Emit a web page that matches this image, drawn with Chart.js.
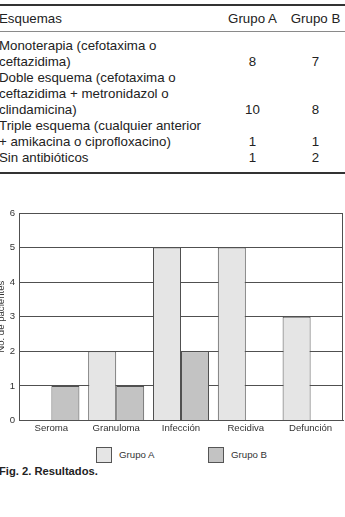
<!DOCTYPE html>
<html>
<head>
<meta charset="utf-8">
<script src="https://cdn.jsdelivr.net/npm/chart.js@4"></script>
<style>
    body { margin: 0; background: #fff; width: 345px; height: 517px; overflow: hidden; position: relative;
           font-family: "Liberation Sans", Arial, sans-serif; color: #222; }
    #tabla { position: absolute; top: 4px; left: -1px; width: 347px; font-size: 13.3px; line-height: 16px;
             border-top: 2px solid #333; border-bottom: 2px solid #333; }
    #tabla .cab { display: flex; padding: 5px 0 4px 0; border-bottom: 1px solid #8a8a8a; }
    #tabla .cuerpo { padding: 6px 0; }
    #tabla .fila { display: flex; }
    #tabla .c1 { width: 221px; white-space: nowrap; }
    #tabla .c2 { width: 65px; text-align: center; align-self: flex-end; }
    #tabla .c3 { width: 61px; text-align: center; align-self: flex-end; }
    #grafico { position: absolute; top: 195px; left: -4px; width: 349px; height: 241px; }
    #leyenda { position: absolute; top: 447px; left: 0; width: 345px; height: 16px; font-size: 9.7px; }
    #leyenda .item { position: absolute; top: 0; height: 16px; line-height: 16px; }
    #leyenda .caja { position: absolute; left: 0; top: 0; width: 14px; height: 14px; border: 1px solid #555; }
    #leyenda .txt { position: absolute; left: 23px; top: 0; white-space: nowrap; color: #333; }
    #pie { position: absolute; top: 463px; left: -1px; font-size: 11.2px; font-weight: bold; line-height: 16px; color: #222; }
</style>
</head>
<body>
<div id="tabla"></div>
<div id="grafico"><canvas id="resultadosChart"></canvas></div>
<div id="leyenda"></div>
<div id="pie">Fig. 2. Resultados.</div>

<script>
// Table data
const columnas = ['Esquemas', 'Grupo A', 'Grupo B'];
const esquemas = [
    ['Monoterapia (cefotaxima o', 'ceftazidima)'],
    ['Doble esquema (cefotaxima o', 'ceftazidima + metronidazol o', 'clindamicina)'],
    ['Triple esquema (cualquier anterior', '+ amikacina o ciprofloxacino)'],
    ['Sin antibióticos']
];
const tablaGrupoA = [8, 10, 1, 1];
const tablaGrupoB = [7, 8, 1, 2];

// Chart data
const categorias = ['Seroma', 'Granuloma', 'Infección', 'Recidiva', 'Defunción'];
const grupoA = [0, 2, 5, 5, 3];
const grupoB = [1, 1, 2, 0, 0];
const yTicks = [0, 1, 2, 3, 4, 5, 6];
const etiquetaY = 'No. de pacientes';

const FONT = '"Liberation Sans", Arial, sans-serif';
const colorA = '#e5e5e5';
const colorB = '#c3c3c3';
const colorLinea = '#505050';

// Build table
function buildTable() {
    const tabla = document.getElementById('tabla');
    let html = `<div class="cab"><div class="c1">${columnas[0]}</div>
        <div class="c2">${columnas[1]}</div><div class="c3">${columnas[2]}</div></div>
        <div class="cuerpo">`;
    esquemas.forEach((lineas, i) => {
        html += `<div class="fila"><div class="c1">${lineas.join('<br>')}</div>
            <div class="c2">${tablaGrupoA[i]}</div><div class="c3">${tablaGrupoB[i]}</div></div>`;
    });
    html += '</div>';
    tabla.innerHTML = html;
}

// Frame around the plot area (right side is not drawn by the axes)
const marco = {
    id: 'marco',
    afterDatasetsDraw(chart) {
        const {ctx, chartArea} = chart;
        ctx.save();
        ctx.strokeStyle = colorLinea;
        ctx.lineWidth = 1;
        ctx.beginPath();
        ctx.moveTo(Math.round(chartArea.right) - 0.5, chartArea.top);
        ctx.lineTo(Math.round(chartArea.right) - 0.5, chartArea.bottom);
        ctx.stroke();
        ctx.restore();
    }
};

function createChart() {
    const ctx = document.getElementById('resultadosChart').getContext('2d');
    return new Chart(ctx, {
        type: 'bar',
        data: {
            labels: categorias,
            datasets: [{
                label: 'Grupo A',
                data: grupoA,
                backgroundColor: colorA,
                borderColor: colorLinea,
                borderWidth: 1
            }, {
                label: 'Grupo B',
                data: grupoB,
                backgroundColor: colorB,
                borderColor: colorLinea,
                borderWidth: 1
            }]
        },
        options: {
            responsive: true,
            maintainAspectRatio: false,
            animation: false,
            categoryPercentage: 0.864,
            barPercentage: 1,
            layout: { padding: { top: 18, right: 2, bottom: 0, left: 0 } },
            plugins: {
                legend: { display: false },
                tooltip: { enabled: false }
            },
            scales: {
                x: {
                    grid: { drawOnChartArea: false, drawTicks: false },
                    border: { display: true, color: colorLinea, width: 1 },
                    ticks: { color: '#333', padding: 2, font: { family: FONT, size: 9.6 } }
                },
                y: {
                    min: 0,
                    max: 6,
                    afterFit: (scale) => { scale.width = 23; },
                    afterBuildTicks: (scale) => { scale.ticks = yTicks.map(v => ({ value: v })); },
                    grid: { color: colorLinea, lineWidth: 1, drawTicks: false },
                    border: { display: true, color: colorLinea, width: 1 },
                    ticks: { color: '#333', padding: 4, font: { family: FONT, size: 9.6 } },
                    title: {
                        display: true,
                        text: etiquetaY,
                        color: '#333',
                        padding: 0,
                        font: { family: FONT, size: 9.6 }
                    }
                }
            }
        },
        plugins: [marco]
    });
}

// HTML legend built from the chart datasets
function buildLegend(chart) {
    const leyenda = document.getElementById('leyenda');
    const posiciones = [96, 208];
    leyenda.innerHTML = '';
    chart.data.datasets.forEach((ds, i) => {
        const item = document.createElement('div');
        item.className = 'item';
        item.style.left = posiciones[i] + 'px';
        item.innerHTML = `<div class="caja" style="background:${ds.backgroundColor}"></div>
            <div class="txt">${ds.label}</div>`;
        leyenda.appendChild(item);
    });
}

buildTable();
const chart = createChart();
buildLegend(chart);
</script>
</body>
</html>
